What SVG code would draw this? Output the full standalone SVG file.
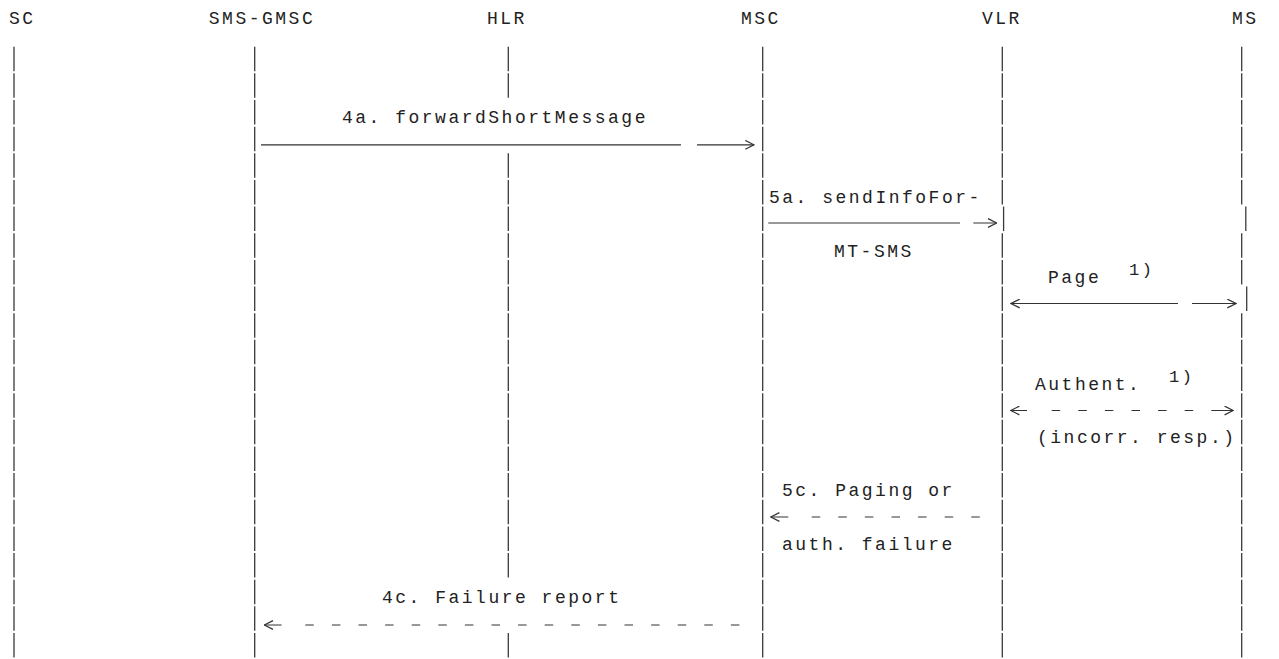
<svg xmlns="http://www.w3.org/2000/svg" width="1279" height="659" viewBox="0 0 1279 659">
<style>
  .hdr { font-family: "Liberation Mono", "DejaVu Sans Mono", monospace; font-size: 18px; letter-spacing: 2.5px; fill: #222222; }
  .lbl { font-family: "Liberation Mono", "DejaVu Sans Mono", monospace; font-size: 18px; letter-spacing: 2.5px; fill: #222222; }
  .sup { font-family: "Liberation Mono", "DejaVu Sans Mono", monospace; font-size: 17px; letter-spacing: 2.5px; fill: #222222; }
  .life { stroke: #3a3a3a; stroke-width: 1.3; fill: none; stroke-dasharray: 24.5 2.15; }
  .msg { stroke: #333; stroke-width: 1.2; fill: none; }
  .end { marker-end: url(#chev); }
  .start { marker-start: url(#chev); }
</style>
<defs>
  <marker id="chev" markerUnits="userSpaceOnUse" markerWidth="10" markerHeight="10" viewBox="0 0 10 10" refX="9.3" refY="5" orient="auto-start-reverse">
    <path d="M0.6,0.6 L9.3,5 L0.6,9.4" fill="none" stroke="#333" stroke-width="1.2"/>
  </marker>
</defs>
<rect width="1279" height="659" fill="#ffffff"/>

<g id="node-sc">
  <text class="hdr" x="9" y="24">SC</text>
  <line class="life" x1="14" y1="46.7" x2="14" y2="657.5"/>
</g>
<g id="node-sms-gmsc">
  <text class="hdr" x="208.8" y="24">SMS-GMSC</text>
  <line class="life" x1="254.7" y1="46.7" x2="254.7" y2="657.5"/>
</g>
<g id="node-hlr">
  <text class="hdr" x="487" y="24">HLR</text>
  <line class="life" x1="508.3" y1="46.7" x2="508.3" y2="97.85"/>
  <line class="life" x1="508.3" y1="153.3" x2="508.3" y2="577.55"/>
  <line class="life" x1="508.3" y1="633" x2="508.3" y2="657.5"/>
</g>
<g id="node-msc">
  <text class="hdr" x="741" y="24">MSC</text>
  <line class="life" x1="762.7" y1="46.7" x2="762.7" y2="657.5"/>
</g>
<g id="node-vlr">
  <text class="hdr" x="982" y="24">VLR</text>
  <line class="life" x1="1002.3" y1="46.7" x2="1002.3" y2="204.45"/>
  <line class="life" x1="1003.6" y1="206.6" x2="1003.6" y2="231.1"/>
  <line class="life" x1="1002.3" y1="233.25" x2="1002.3" y2="657.5"/>
</g>
<g id="node-ms">
  <text class="hdr" x="1232" y="24">MS</text>
  <line class="life" x1="1241.7" y1="46.7" x2="1241.7" y2="204.45"/>
  <line class="life" x1="1245.8" y1="206.6" x2="1245.8" y2="231.1"/>
  <line class="life" x1="1241.7" y1="233.25" x2="1241.7" y2="284.4"/>
  <line class="life" x1="1246.7" y1="286.55" x2="1246.7" y2="311.05"/>
  <line class="life" x1="1241.7" y1="313.2" x2="1241.7" y2="657.5"/>
</g>

<g id="connectors">
  <g id="msg-4a">
    <text class="lbl" x="342" y="123.3">4a. forwardShortMessage</text>
    <path class="msg end" d="M261,144.8 H681 M697,144.8 H754"/>
  </g>
  <g id="msg-5a">
    <text class="lbl" x="769" y="203.3">5a. sendInfoFor-</text>
    <path class="msg end" d="M768.3,223 H960 M973.3,223 H996.7"/>
    <text class="lbl" x="834" y="256.6">MT-SMS</text>
  </g>
  <g id="msg-page">
    <text class="lbl" x="1048" y="283.2">Page</text>
    <text class="sup" x="1129" y="274.5">1)</text>
    <path class="msg start end" d="M1011,303.5 H1178 M1192,303.5 H1236"/>
  </g>
  <g id="msg-authent">
    <text class="lbl" x="1035" y="389.8">Authent.</text>
    <text class="sup" x="1169" y="381.5">1)</text>
    <path class="msg start end" d="M1010.7,410.5 H1027 M1051.7,410.5 h8.5 M1078.3,410.5 h8.5 M1104.9,410.5 h8.5 M1131.5,410.5 h8.5 M1158.1,410.5 h8.5 M1184.7,410.5 h8.5 M1211.3,410.5 H1233.3"/>
    <text class="lbl" x="1037" y="443.1">(incorr. resp.)</text>
  </g>
  <g id="msg-5c">
    <text class="lbl" x="782" y="496.4">5c. Paging or</text>
    <path class="msg start" d="M770.7,517 H788.3 M811.7,517 h8.5 M838.3,517 h8.5 M864.9,517 h8.5 M891.5,517 h8.5 M918.1,517 h8.5 M944.7,517 h8.5 M971.3,517 h8.5"/>
    <text class="lbl" x="782" y="549.7">auth. failure</text>
  </g>
  <g id="msg-4c">
    <text class="lbl" x="382" y="603">4c. Failure report</text>
    <path class="msg start" d="M264.3,625 H281.6 M305.3,625 h8.5 M331.9,625 h8.5 M358.5,625 h8.5 M385.1,625 h8.5 M411.7,625 h8.5 M438.3,625 h8.5 M464.9,625 h8.5 M491.5,625 h8.5 M518.1,625 h8.5 M544.7,625 h8.5 M571.3,625 h8.5 M597.9,625 h8.5 M624.5,625 h8.5 M651.1,625 h8.5 M677.7,625 h8.5 M704.3,625 h8.5 M730.9,625 h8.5"/>
  </g>
</g>
</svg>
